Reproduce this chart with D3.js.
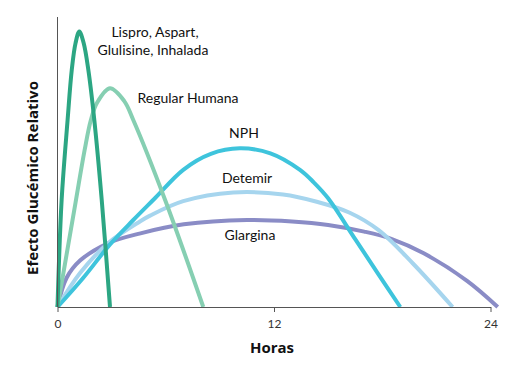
<!DOCTYPE html>
<html><head><meta charset="utf-8">
<script src="https://cdn.jsdelivr.net/npm/d3@7"></script>
<style>body{margin:0;background:#fff}svg{display:block}</style>
</head><body><svg id="c" width="530" height="369"></svg>
<script>
const xTicks = [0, 12, 24];
const lispro = [[0,0],[0.23,37],[0.56,64.5],[0.79,81.7],[1.0,91],[1.21,95],[1.45,91],[1.71,81.7],[2.04,64.5],[2.45,37],[2.91,0]];
const regular = [[0,0],[0.5,18],[1.0,36],[1.5,54],[1.85,64.5],[2.2,70.5],[2.91,75.4],[3.7,71],[4.2,64.5],[5.96,37],[8.08,0]];
const nph = [[0,0],[1.42,10],[2.9,21.5],[4.2,30],[5.4,37.5],[6.97,47.3],[8.5,52.8],[10.1,54.7],[11.8,53],[13.44,47.3],[14.2,43],[15.0,37.5],[16.5,23.4],[17.8,11.2],[19,0]];
const detemir = [[0,0],[1.25,11.7],[2.8,22],[4.57,29.5],[5.13,31.5],[6.97,36.5],[9.74,39.5],[12.5,38.8],[14.37,36.3],[16.2,32.5],[17.8,26.5],[19.7,15],[21.9,0]];
const glargina = [[0,0],[0.5,10],[1.25,16],[2.8,22],[4.6,25.4],[7,28.5],[10.5,30],[13,29.5],[15,28.3],[17,26],[18.5,23.5],[20.3,18.5],[22.7,9],[24.4,0]];
const seriesNames = ["Lispro","Regular Humana","NPH","Detemir","Glargina"];
const seriesData = [lispro, regular, nph, detemir, glargina];
const seriesColors = ["#2ca683","#86cfb2","#3ec4dc","#a6d5ee","#8a8cc6"];

const svg = d3.select("#c");
const x = d3.scaleLinear().domain([0,24]).range([57.5,490.5]);
const y = d3.scaleLinear().domain([0,100]).range([307,17]);
const line = d3.line().x(d=>x(d[0])).y(d=>y(d[1])).curve(d3.curveCatmullRom.alpha(0.5));

const order = [4,3,2,1,0];
order.forEach(i=>{
  svg.append("path").attr("d", line(seriesData[i])).attr("fill","none")
    .attr("stroke", seriesColors[i]).attr("stroke-width", 4).attr("stroke-linecap","butt");
});

const xAxis = d3.axisBottom(x).tickValues(xTicks).tickSize(5).tickSizeOuter(0).tickFormat(d3.format("d"));
const gx = svg.append("g").attr("transform","translate(0,307)").call(xAxis);
gx.select(".domain").attr("stroke","#555");
gx.selectAll(".tick line").attr("stroke","#555");
gx.selectAll(".tick text").attr("fill","#333").attr("font-family","Lato, sans-serif").attr("font-size",12).attr("dy","1.05em");
svg.append("line").attr("x1",57.5).attr("x2",57.5).attr("y1",17).attr("y2",307).attr("stroke","#555");

const font = "Lato, 'Open Sans', sans-serif";
svg.append("text").attr("x",272).attr("y",353).attr("text-anchor","middle").attr("font-family","'Open Sans', sans-serif")
  .attr("font-weight","bold").attr("font-size",15).attr("fill","#111").text("Horas");
svg.append("text").attr("transform","translate(38,178) rotate(-90)").attr("text-anchor","middle").attr("font-family","'Open Sans', sans-serif")
  .attr("font-weight","bold").attr("font-size",15).attr("fill","#111").text("Efecto Glucémico Relativo");

const labels = [
  {t:"Lispro, Aspart,", x:155, y:37},
  {t:"Glulisine, Inhalada", x:153, y:55},
  {t:"Regular Humana", x:188, y:103},
  {t:"NPH", x:244, y:138},
  {t:"Detemir", x:247, y:183},
  {t:"Glargina", x:250, y:240}
];
svg.selectAll("text.lab").data(labels).join("text").attr("class","lab")
  .attr("x",d=>d.x).attr("y",d=>d.y).attr("text-anchor","middle")
  .attr("font-family",font).attr("font-size",14).attr("fill","#111")
  .attr("stroke","#fff").attr("stroke-width",3).attr("paint-order","stroke").text(d=>d.t);
</script></body></html>
